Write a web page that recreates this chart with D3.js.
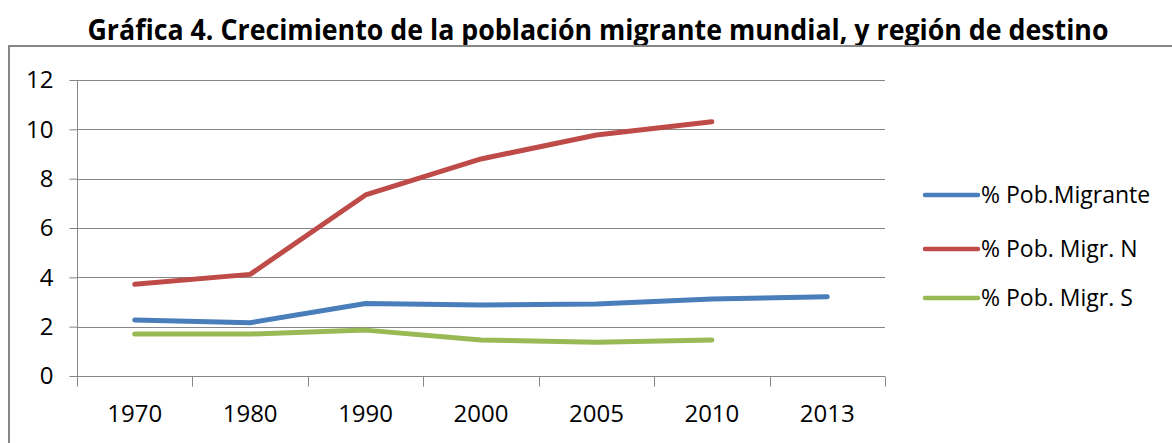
<!DOCTYPE html>
<html>
<head>
<meta charset="utf-8" />
<style>
  body { margin: 0; background: #fff; }
  svg { display: block; }
  text { font-family: "Open Sans", "Noto Sans", sans-serif; fill: #000; }
  .axis path, .axis line { stroke: #868686; }
</style>
</head>
<body>
<div id="chart"></div>
<script src="https://d3js.org/d3.v7.min.js"></script>
<script>
// data
var years = ["1970", "1980", "1990", "2000", "2005", "2010", "2013"];
var migrante = [2.27, 2.16, 2.94, 2.88, 2.92, 3.12, 3.21];
var migrNorte = [3.72, 4.12, 7.34, 8.80, 9.77, 10.31, null];
var migrSur = [1.70, 1.70, 1.86, 1.46, 1.37, 1.46, null];
var yTicks = [0, 2, 4, 6, 8, 10, 12];

var series = [
  { name: "% Pob.Migrante", color: "#4A7EBB", values: migrante },
  { name: "% Pob. Migr. N", color: "#BE4B48", values: migrNorte },
  { name: "% Pob. Migr. S", color: "#98B954", values: migrSur }
];

var width = 1172,
    height = 443;

var svg = d3.select("#chart")
  .append("svg")
  .attr("width", width)
  .attr("height", height);

// title
svg.append("text")
  .attr("x", 598)
  .attr("y", 40)
  .attr("text-anchor", "middle")
  .attr("font-size", 28)
  .attr("font-weight", "bold")
  .attr("textLength", 1021)
  .attr("lengthAdjust", "spacingAndGlyphs")
  .text("Gráfica 4. Crecimiento de la población migrante mundial, y región de destino");

// chart frame (runs off the page right and bottom)
svg.append("rect")
  .attr("x", 9)
  .attr("y", 46)
  .attr("width", 1200)
  .attr("height", 450)
  .attr("fill", "none")
  .attr("stroke", "#868686")
  .attr("stroke-width", 2);

var x = d3.scaleBand()
  .domain(years)
  .range([77, 885])
  .padding(0);

var y = d3.scaleLinear()
  .domain([0, 12])
  .range([376, 80]);

// gridlines
svg.append("g")
  .selectAll("line")
  .data(yTicks.filter(function(d) { return d > 0; }))
  .enter().append("line")
  .attr("x1", 77)
  .attr("x2", 885)
  .attr("y1", function(d) { return Math.round(y(d)) + 0.5; })
  .attr("y2", function(d) { return Math.round(y(d)) + 0.5; })
  .attr("stroke", "#868686")
  .attr("stroke-width", 1);

// y axis
var yAxis = svg.append("g")
  .attr("class", "axis")
  .attr("transform", "translate(77.5,0)")
  .call(d3.axisLeft(y).tickValues(yTicks).tickSize(8).tickPadding(16));
yAxis.selectAll("text").attr("font-size", 24).style("font-family", null);
yAxis.select(".domain").attr("d", "M0," + y(12) + "V" + y(0));

// x axis: labels under categories, ticks between them
var xAxis = svg.append("g")
  .attr("class", "axis")
  .attr("transform", "translate(0," + (Math.round(y(0)) + 0.5) + ")")
  .call(d3.axisBottom(x).tickSize(0).tickPadding(28));
xAxis.selectAll("text").attr("font-size", 24).style("font-family", null);
xAxis.select(".domain").attr("d", "M77,0H885");
xAxis.selectAll("line.between")
  .data(d3.range(years.length + 1))
  .enter().append("line")
  .attr("class", "between")
  .attr("x1", function(i) { return Math.round(77 + i * x.step()) + 0.5; })
  .attr("x2", function(i) { return Math.round(77 + i * x.step()) + 0.5; })
  .attr("y1", 0)
  .attr("y2", 10);

// lines
var line = d3.line()
  .defined(function(d) { return d != null; })
  .x(function(d, i) { return x(years[i]) + x.bandwidth() / 2; })
  .y(function(d) { return y(d); });

svg.append("g")
  .selectAll("path")
  .data(series)
  .enter().append("path")
  .attr("d", function(s) { return line(s.values); })
  .attr("fill", "none")
  .attr("stroke", function(s) { return s.color; })
  .attr("stroke-width", 5)
  .attr("stroke-linecap", "round")
  .attr("stroke-linejoin", "round");

// legend
var legend = svg.append("g")
  .selectAll("g")
  .data(series)
  .enter().append("g")
  .attr("transform", function(d, i) { return "translate(0," + [195, 249, 298][i] + ")"; });

legend.append("line")
  .attr("x1", 925)
  .attr("x2", 978)
  .attr("stroke", function(d) { return d.color; })
  .attr("stroke-width", 4.5)
  .attr("stroke-linecap", "round");

legend.append("text")
  .attr("x", 981)
  .attr("dy", "0.35em")
  .attr("font-size", 23)
  .text(function(d) { return d.name; });
</script>
</body>
</html>
